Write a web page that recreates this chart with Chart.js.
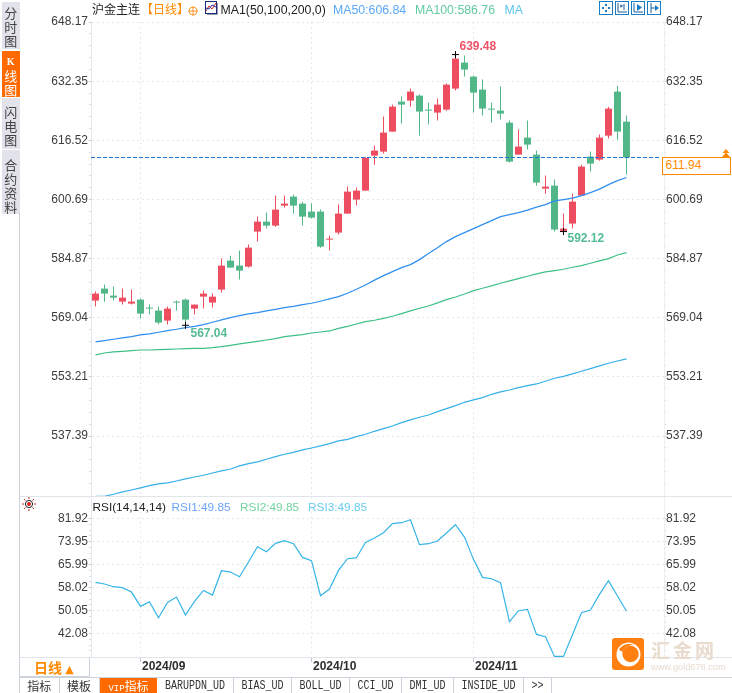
<!DOCTYPE html>
<html lang="zh">
<head>
<meta charset="utf-8">
<script src="https://cdn.jsdelivr.net/npm/chart.js@4"></script>
<style>
html,body{margin:0;padding:0;background:#fff;width:732px;height:693px;overflow:hidden}
body{position:relative;font-family:"Liberation Sans",Arial,sans-serif}
canvas{position:absolute;left:0}
.t{position:absolute;white-space:nowrap;line-height:14px;font-size:12.3px}
.cn{font-family:"Noto Sans CJK SC",sans-serif}
.side{position:absolute;left:2px;width:17.5px;background:#e1e2ea;color:#444;text-align:center;font:13px/14px "Noto Sans CJK SC",sans-serif;box-sizing:border-box}
.side.on{background:#ff6a00;color:#fff}
.hl{position:absolute;background:#dfe5ea}
.tab{position:absolute;top:678px;height:15px;box-sizing:border-box;border-right:1px solid #ccd3da;text-align:center;color:#333;font:12px/15px "Noto Sans CJK SC",sans-serif;overflow:hidden}
.tab.m{font:10px/15px "Liberation Mono",monospace}
.tab.m span{display:inline-block;transform:scaleY(1.25)}
.tab.on{background:#ff6a00;color:#fff;border-right:0}
.ic{position:absolute;top:1px;width:14px;height:14px}
</style>
</head>
<body>
<canvas id="priceCanvas" width="732" height="497" style="top:0"></canvas>
<canvas id="rsiCanvas" width="732" height="181" style="top:496px"></canvas>

<div class="side" style="top:2px;height:47px;padding-top:4px">分<br>时<br>图</div>
<div class="side on" style="top:51px;height:46px;padding-top:4px"><div style="font:bold 10px/14px 'Liberation Serif',serif;height:14px">K</div>线<br>图</div>
<div class="side" style="top:98px;height:51px;padding-top:7px">闪<br>电<br>图</div>
<div class="side" style="top:150px;height:64px;padding-top:8px">合<br>约<br>资<br>料</div>
<div class="hl" style="left:19px;top:213px;width:1px;height:480px;background:#ccd3da"></div>
<div class="hl" style="left:20px;top:496px;width:712px;height:1px"></div>
<div class="hl" style="left:20px;top:657px;width:712px;height:1px"></div>
<div class="hl" style="left:20px;top:677px;width:712px;height:1px;background:#ccd3da"></div>
<div class="hl" style="left:89px;top:657px;width:1px;height:20px;background:#ccd3da"></div>
<div class="hl" style="left:20px;top:676px;width:70px;height:1px;background:#ccd3da"></div>

<div class="t cn" style="left:92px;top:2px;font-size:12px;color:#222">沪金主连</div>
<div class="t cn" style="left:141px;top:2px;font-size:12px;color:#ff8a00">【日线】</div>
<svg style="position:absolute;left:188px;top:6px" width="10" height="10"><circle cx="5" cy="5" r="4" fill="none" stroke="#ff9a30"/><path d="M0 5H10M5 0V10" stroke="#ff9a30"/></svg>
<svg style="position:absolute;left:205px;top:1px" width="13" height="14"><rect x=".5" y=".5" width="11" height="12" fill="#fff" stroke="#1a2a7a"/><path d="M1 10L4 5L7 8L11 2" fill="none" stroke="#d22"/><path d="M1 7L4 8L7 4L11 6" fill="none" stroke="#23b"/><path d="M2 13.5H12.5V2" fill="none" stroke="#99a"/></svg>
<div class="t" style="left:220.5px;top:3px;color:#222">MA1(50,100,200,0)</div>
<div class="t" style="left:333px;top:3px;color:#5aa8f4">MA50:606.84</div>
<div class="t" style="left:415px;top:3px;color:#62cba0">MA100:586.76</div>
<div class="t" style="left:504.5px;top:3px;color:#5cc4e8">MA</div>

<svg class="ic" style="left:599px" viewBox="0 0 14 14"><rect x=".5" y=".5" width="13" height="13" fill="#fff" stroke="#1b7cc6"/><path d="M6 3h2v2H6zM6 9h2v2H6zM3 6h2v2H3zM9 6h2v2H9z" fill="#1b7cc6"/></svg>
<svg class="ic" style="left:615px" viewBox="0 0 14 14"><rect x=".5" y=".5" width="13" height="13" fill="#fff" stroke="#1b7cc6"/><path d="M3 2V11H12M9 3V9M5 5H8M6 3.5V6.5" fill="none" stroke="#1b5f9a"/></svg>
<svg class="ic" style="left:631px" viewBox="0 0 14 14"><rect x=".5" y=".5" width="13" height="13" fill="#fff" stroke="#1b7cc6"/><path d="M3 2V11H12" fill="none" stroke="#1b5f9a"/><path d="M6 3L11 6.5L6 10Z" fill="#1b7cc6"/></svg>
<svg class="ic" style="left:647px" viewBox="0 0 14 14"><rect x=".5" y=".5" width="13" height="13" fill="#fff" stroke="#1b7cc6"/><path d="M4 2V12M4 7H9" fill="none" stroke="#1b5f9a"/><path d="M8 4L12 7L8 10Z" fill="#1b7cc6"/></svg>

<div style="position:absolute;left:662px;top:157px;width:69px;height:17.5px;box-sizing:border-box;border:1px solid #ff8a00;background:#fff;color:#ff8a00;font-size:12px;line-height:15.5px;padding-left:2.5px">611.94</div>
<svg style="position:absolute;left:721px;top:149px" width="10" height="8"><path d="M5 0L8.5 4H1.5ZM5 3.5L9 8H1Z" fill="#ff8a00"/></svg>

<svg style="position:absolute;left:22px;top:497px" width="14" height="14" viewBox="0 0 14 14"><circle cx="7" cy="7" r="3.6" fill="#fff" stroke="#222"/><circle cx="7" cy="7" r="2" fill="#e02020"/><path d="M7 0V2M7 12V14M0 7H2M12 7H14M2 2L3.4 3.4M12 2L10.6 3.4M2 12L3.4 10.6M12 12L10.6 10.6" stroke="#e02020"/></svg>
<div class="t" style="left:92.5px;top:500px;color:#222;font-size:11.8px">RSI(14,14,14)</div>
<div class="t" style="left:171.5px;top:500px;color:#6aa4fb;font-size:11.8px">RSI1:49.85</div>
<div class="t" style="left:240px;top:500px;color:#74d3a0;font-size:11.8px">RSI2:49.85</div>
<div class="t" style="left:308px;top:500px;color:#6bcdf2;font-size:11.8px">RSI3:49.85</div>

<div class="t cn" style="left:34px;top:660px;font-size:14px;font-weight:700;color:#ff8a00">日线 <span style="font:11px 'DejaVu Sans',sans-serif">▲</span></div>

<div class="tab" style="left:20px;width:39.5px">指标</div>
<div class="tab" style="left:59.5px;width:40px">模板</div>
<div class="tab on" style="left:100px;width:57px"><span style="font:9px 'Liberation Mono',monospace">VIP</span>指标</div>
<div class="tab m" style="left:157px;width:77px"><span>BARUPDN_UD</span></div>
<div class="tab m" style="left:234px;width:58px"><span>BIAS_UD</span></div>
<div class="tab m" style="left:292px;width:58px"><span>BOLL_UD</span></div>
<div class="tab m" style="left:350px;width:52px"><span>CCI_UD</span></div>
<div class="tab m" style="left:402px;width:52px"><span>DMI_UD</span></div>
<div class="tab m" style="left:454px;width:70px"><span>INSIDE_UD</span></div>
<div class="tab m" style="left:524px;width:28px"><span>&gt;&gt;</span></div>

<svg style="position:absolute;left:612px;top:638px" width="33" height="33" viewBox="0 0 33 33"><rect x="0" y="0" width="32" height="32" rx="3" fill="#ff7f11"/><circle cx="16.5" cy="16.5" r="12" fill="#fff"/><circle cx="18.5" cy="16" r="8.2" fill="#ff7f11"/><path d="M7 12C10 6 17 5 22 7C16 7 12 9 11 14Z" fill="#ff7f11"/></svg>
<div class="t cn" style="left:651px;top:639px;font-size:19px;line-height:22px;font-weight:700;color:#e9dbcd;letter-spacing:3px">汇金网</div>
<div class="t" style="left:651px;top:662px;font-size:9.2px;line-height:11px;color:#e6dacf">www.gold678.com</div>

<script>
const categories = [
 "2024/08/26","2024/08/27","2024/08/28","2024/08/29","2024/08/30",
 "2024/09/02","2024/09/03","2024/09/04","2024/09/05","2024/09/06","2024/09/09","2024/09/10","2024/09/11","2024/09/12","2024/09/13",
 "2024/09/18","2024/09/19","2024/09/20","2024/09/23","2024/09/24","2024/09/25","2024/09/26","2024/09/27","2024/09/30",
 "2024/10/08","2024/10/09","2024/10/10","2024/10/11","2024/10/14","2024/10/15","2024/10/16","2024/10/17","2024/10/18",
 "2024/10/21","2024/10/22","2024/10/23","2024/10/24","2024/10/25","2024/10/28","2024/10/29","2024/10/30","2024/10/31",
 "2024/11/01","2024/11/04","2024/11/05","2024/11/06","2024/11/07","2024/11/08","2024/11/11","2024/11/12","2024/11/13","2024/11/14","2024/11/15",
 "2024/11/18","2024/11/19","2024/11/20","2024/11/21","2024/11/22","2024/11/25","2024/11/26"];
const opens = [573.64,576.85,574.98,573.37,572.84,573.91,571.77,570.97,568.29,573.37,573.91,571.50,574.71,573.11,576.59,584.35,583.01,582.74,592.11,594.78,593.71,599.06,601.47,599.60,597.46,597.46,589.97,591.84,596.92,600.67,603.08,612.44,613.51,618.86,626.89,627.16,628.50,624.75,623.95,624.75,630.37,637.33,633.58,630.10,625.02,624.48,621.27,612.71,617.26,612.71,603.61,604.41,592.30,594.25,601.74,612.17,611.37,617.79,629.57,621.54];
const closes = [575.52,575.52,574.44,574.44,573.37,570.16,571.50,567.76,571.50,573.11,568.56,572.57,575.52,574.71,583.01,582.47,581.67,587.82,594.78,593.71,597.99,599.60,599.06,596.12,595.85,588.09,590.23,596.92,602.81,603.08,611.82,613.78,618.60,625.55,626.09,629.57,624.22,624.48,626.09,631.44,638.40,635.46,629.30,625.02,624.75,623.68,610.84,614.85,615.39,605.22,604.15,592.64,592.91,600.13,609.50,610.30,617.26,625.02,618.86,611.94];
const highs = [576.05,577.92,577.39,576.85,576.59,574.18,572.57,572.04,572.04,573.64,574.18,572.57,576.32,575.52,584.88,585.68,587.02,588.63,596.12,597.19,601.74,601.74,602.01,600.13,599.60,597.99,591.04,599.33,604.15,603.88,612.00,615.12,622.88,626.09,628.23,630.37,628.77,626.62,627.70,631.71,639.48,639.20,633.85,632.78,626.62,630.91,621.81,619.40,621.81,613.78,607.09,606.02,596.92,602.27,610.03,613.51,618.06,625.55,631.17,623.15];
const lows = [572.04,573.37,573.64,572.57,572.57,568.83,569.90,567.30,567.22,570.97,567.04,569.90,571.50,571.77,575.78,582.47,579.26,582.47,589.43,592.91,593.44,598.53,596.92,593.71,595.59,587.82,587.02,591.30,596.92,599.06,603.08,610.03,612.98,618.86,621.01,625.55,617.79,620.74,621.81,624.48,629.84,633.58,623.95,623.15,621.27,622.08,610.57,612.71,614.05,604.41,602.27,592.12,592.12,592.91,601.74,608.16,611.10,617.00,616.72,607.36];
const ma50 = [562.58,562.94,563.30,563.65,564.01,564.45,564.72,565.17,565.61,565.97,566.42,566.77,567.22,567.84,568.47,569.09,569.63,570.07,570.43,570.88,571.32,571.77,572.12,572.57,572.93,573.46,574.09,574.71,575.60,576.67,577.83,579.13,580.33,581.40,582.47,583.27,584.61,586.22,587.82,589.43,590.77,591.84,592.91,593.98,595.05,596.12,596.65,597.19,597.86,598.66,599.33,600.32,600.67,601.07,601.74,602.54,603.48,604.68,605.75,606.60];
const ma100 = [559.10,559.63,559.90,560.08,560.26,560.43,560.43,560.52,560.61,560.70,560.79,560.88,560.88,561.06,561.33,561.68,562.04,562.40,562.75,563.11,563.47,564.00,564.27,564.54,564.98,565.25,565.52,566.23,566.77,567.39,568.02,568.38,568.91,569.45,570.16,570.88,571.59,572.21,573.02,573.91,574.62,575.42,576.32,576.94,577.57,578.28,578.91,579.53,580.15,580.78,581.31,581.67,582.03,582.56,583.01,583.63,584.26,584.88,585.86,586.49];
const ma200 = [521.28,521.28,521.82,522.44,522.97,523.51,524.13,524.58,524.85,525.38,525.92,526.45,526.90,527.52,528.06,528.59,529.40,530.02,530.47,531.18,531.89,532.52,533.05,533.68,534.21,534.75,535.37,536.09,536.53,537.25,537.87,538.67,539.39,540.10,541.00,541.71,542.42,543.04,543.94,544.74,545.54,546.43,547.06,547.68,548.57,549.20,549.73,550.36,550.89,551.34,552.05,552.86,553.39,554.02,554.73,555.44,556.16,556.87,557.49,558.03];
const rsi1 = [59.86,59.29,58.36,58.02,56.51,51.55,53.17,47.62,52.93,54.78,48.55,53.28,57.09,55.48,63.91,63.44,61.83,66.91,72.22,70.49,73.37,74.30,73.26,68.52,67.37,55.24,57.55,64.02,68.06,68.41,73.72,75.22,77.07,80.19,80.53,81.57,72.91,73.26,74.18,76.95,79.84,75.57,67.83,61.60,61.13,59.75,46.24,50.05,50.51,41.85,41.04,34.23,34.23,41.73,49.35,50.28,55.71,60.44,55.13,49.85];
const priceTicks = [648.17,632.35,616.52,600.69,584.87,569.04,553.21,537.39];
const rsiTicks = [81.92,73.95,65.99,58.02,50.05,42.08];
const monthLabels = {5:"2024/09",24:"2024/10",42:"2024/11"};
const lastPrice = 611.94;
const extremes = [
  {i:40,v:639.48,color:"#ee5468",dx:4,dy:-7.5},
  {i:52,v:592.12,color:"#55bb92",dx:4,dy:7.5},
  {i:10,v:567.04,color:"#55bb92",dx:5,dy:8.5}
];

const RED="#ee4d5f", GREEN="#52b788", GRID="#e8e8e8", AXIS="#e3e8ec", TICKTXT="#3c3c3c";
const FONT='"Liberation Sans",Arial,sans-serif';
const xMin=-0.5, xMax=63.17;
const xy = a => a.map((v,i)=>({x:i,y:v}));
const candleColors = opens.map((o,i)=> closes[i]>=o ? RED : GREEN);

function withMinor(majors, sub, min){
  const out=[];
  majors.forEach((m,k)=>{
    out.push({value:m,major:true,label:m.toFixed(2)});
    const next = k<majors.length-1 ? majors[k+1] : m-(majors[0]-majors[1]);
    for(let j=1;j<sub;j++){
      const v=m+(next-m)*j/sub;
      if(v>=min) out.push({value:v,major:false,label:""});
    }
  });
  return out;
}
function yAxis(position, width, majors, sub, min, max){
  return {
    type:"linear", position, min, max, display:true,
    afterFit:s=>{s.width=width;s.paddingTop=0;s.paddingBottom=0},
    afterBuildTicks:s=>{s.ticks=withMinor(majors,sub,min)},
    afterTickToLabelConversion:s=>{s.ticks.forEach(t=>{t.label=t.major?t.value.toFixed(2):""})},
    ticks:{autoSkip:false,padding:position==="left"?1:0,color:TICKTXT,font:{family:FONT,size:12}},
    border:{color:position==="left"?AXIS:"#efefef",dash:[2,3]},
    grid:{drawOnChartArea:position==="left",tickLength:2,tickBorderDash:[],
      color:c=>c.tick&&c.tick.major?GRID:"rgba(0,0,0,0)",
      tickColor:c=>c.tick&&c.tick.major?"#c8c8c8":"#dcdcdc"}
  };
}
const xAxis = (showLabels) => ({
  type:"linear", min:xMin, max:xMax, offset:false,
  afterFit:s=>{s.height=showLabels?20:0;s.paddingLeft=0;s.paddingRight=0},
  afterBuildTicks:s=>{s.ticks=Object.keys(monthLabels).map(k=>({value:+k}))},
  ticks:{display:showLabels,autoSkip:false,maxRotation:0,align:"start",padding:-3,labelOffset:1.5,color:"#2e2e2e",
    font:{family:FONT,size:12,weight:"bold"},callback:v=>monthLabels[v]||""},
  border:{display:false,dash:[2,3]},
  grid:{offset:false,color:GRID,tickLength:showLabels?5:0,tickColor:"#c4cbd2",tickBorderDash:[]}
});
const base = {responsive:false,animation:false,events:[],
  plugins:{legend:{display:false},tooltip:{enabled:false}}};

const extremeLabels = {
  id:"extremeLabels",
  afterDatasetsDraw(ch){
    const {ctx,scales:{x,y}}=ch;
    ctx.save();
    ctx.font="bold 12px "+FONT; ctx.textBaseline="middle"; ctx.textAlign="left";
    extremes.forEach(e=>{
      ctx.fillStyle=e.color;
      ctx.fillText(e.v.toFixed(2), x.getPixelForValue(e.i)+e.dx, y.getPixelForValue(e.v)+e.dy);
    });
    ctx.restore();
  }
};

const pxTop=22.1, pxPerUnit=3.737, priceMin=648.17-(497-pxTop)/pxPerUnit;

new Chart(document.getElementById("priceCanvas"),{
  type:"bar",
  data:{datasets:[
    {label:"wick",data:highs.map((h,i)=>({x:i,y:[lows[i],h]})),backgroundColor:candleColors,barThickness:1,grouped:false,borderWidth:0,inflateAmount:0,order:5},
    {label:"body",data:opens.map((o,i)=>({x:i,y:[o,closes[i]]})),backgroundColor:candleColors,barThickness:7,grouped:false,borderWidth:0,inflateAmount:0,order:4,minBarLength:1},
    {type:"line",label:"MA50",data:xy(ma50),borderColor:"#2e8ff0",borderWidth:1.2,pointRadius:0,tension:0,order:3},
    {type:"line",label:"MA100",data:xy(ma100),borderColor:"#3fbf88",borderWidth:1.2,pointRadius:0,tension:0,order:3},
    {type:"line",label:"MA200",data:xy(ma200),borderColor:"#36b0e8",borderWidth:1.2,pointRadius:0,tension:0,order:3},
    {type:"line",label:"last",data:[{x:xMin,y:lastPrice},{x:62.8,y:lastPrice}],borderColor:"#1e78d8",borderWidth:1,borderDash:[4,2],pointRadius:0,order:2},
    {type:"scatter",label:"extremes",data:extremes.map(e=>({x:e.i,y:e.v})),pointStyle:"cross",pointRadius:3.5,borderColor:"#000",borderWidth:1,pointBorderColor:"#000",order:1}
  ]},
  options:{...base,
    layout:{autoPadding:false,padding:{top:pxTop,bottom:0,left:0,right:0}},
    scales:{x:xAxis(false),
      y:yAxis("left",91,priceTicks,5,priceMin,648.17),
      y2:yAxis("right",68,priceTicks,5,priceMin,648.17)}
  },
  plugins:[extremeLabels]
});

const rsiPxPerUnit=2.887, rsiZero=518.7;
const rsiMax=81.92+(rsiZero-496.5)/rsiPxPerUnit, rsiMin=81.92-(657-rsiZero)/rsiPxPerUnit;
new Chart(document.getElementById("rsiCanvas"),{
  type:"line",
  data:{datasets:[{label:"RSI1",data:xy(rsi1),borderColor:"#35b5e8",borderWidth:1.2,pointRadius:0,tension:0}]},
  options:{...base,
    layout:{autoPadding:false,padding:{top:0.5,bottom:0,left:0,right:0}},
    scales:{x:xAxis(true),
      y:yAxis("left",91,rsiTicks,4,rsiMin,rsiMax),
      y2:yAxis("right",68,rsiTicks,4,rsiMin,rsiMax)}
  }
});
</script>
</body>
</html>
